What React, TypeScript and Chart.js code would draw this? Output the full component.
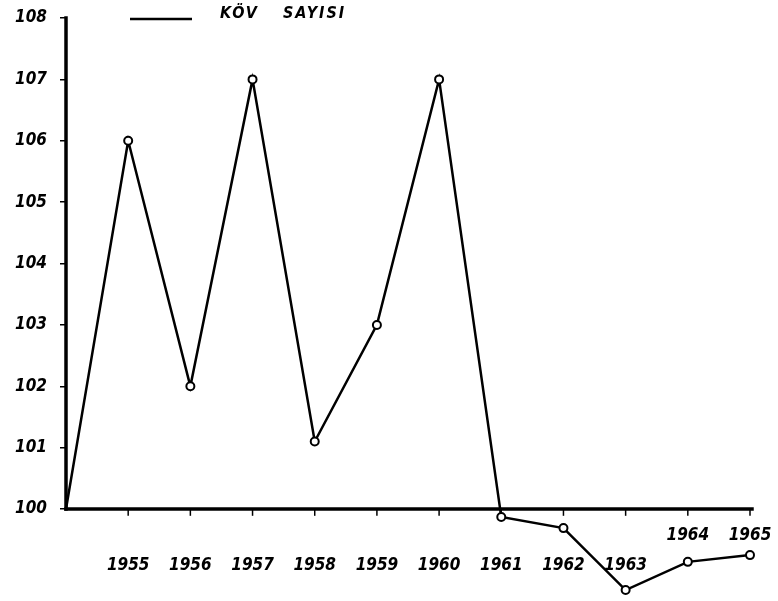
import React, { useEffect, useRef } from "react";
import { Chart, registerables } from "chart.js";

Chart.register(...registerables);

const years = [1954, 1955, 1956, 1957, 1958, 1959, 1960, 1961, 1962, 1963, 1964, 1965];
const values = [100, 106, 102, 107, 101.1, 103, 107, 99.87, 99.69, 98.68, 99.14, 99.25];
const yTickValues = [100, 101, 102, 103, 104, 105, 106, 107, 108];
const xLabelYears = [1955, 1956, 1957, 1958, 1959, 1960, 1961, 1962, 1963, 1964, 1965];
const raisedLabelYears = [1964, 1965];
const legendWords = ["KÖV", "SAYISI"];

const FONT_FAMILY = "'DejaVu Sans Condensed', 'DejaVu Sans', sans-serif";

const axesPlugin = {
  id: "handAxes",
  beforeDatasetsDraw(chart: any) {
    const { ctx } = chart;
    const xs = chart.scales.x;
    const ys = chart.scales.y;
    const x0 = xs.getPixelForValue(years[0]);
    const x1 = xs.getPixelForValue(years[years.length - 1]);
    const yBase = ys.getPixelForValue(yTickValues[0]);
    const yTop = ys.getPixelForValue(yTickValues[yTickValues.length - 1]);
    ctx.save();
    ctx.strokeStyle = "#000";
    ctx.lineCap = "square";
    ctx.lineWidth = 3.5;
    ctx.beginPath();
    ctx.moveTo(x0, yBase);
    ctx.lineTo(x0, yTop);
    ctx.stroke();
    ctx.beginPath();
    ctx.moveTo(x0, yBase);
    ctx.lineTo(x1 + 2, yBase);
    ctx.stroke();
    ctx.lineWidth = 1.5;
    xLabelYears.forEach((yr) => {
      const px = xs.getPixelForValue(yr);
      ctx.beginPath();
      ctx.moveTo(px, yBase);
      ctx.lineTo(px, yBase + 6);
      ctx.stroke();
    });
    ctx.fillStyle = "#000";
    ctx.font = `italic bold 17px ${FONT_FAMILY}`;
    ctx.textAlign = "center";
    ctx.textBaseline = "middle";
    xLabelYears.forEach((yr) => {
      const px = xs.getPixelForValue(yr);
      const off = raisedLabelYears.includes(yr) ? 27 : 57;
      ctx.fillText(String(yr), px, yBase + off);
    });
    ctx.restore();
  },
  afterDraw(chart: any) {
    const { ctx } = chart;
    ctx.save();
    ctx.strokeStyle = "#000";
    ctx.lineWidth = 2.5;
    ctx.beginPath();
    ctx.moveTo(130, 19);
    ctx.lineTo(192, 19);
    ctx.stroke();
    ctx.fillStyle = "#000";
    ctx.font = `italic bold 16px ${FONT_FAMILY}`;
    ctx.textAlign = "left";
    ctx.textBaseline = "middle";
    (ctx as any).letterSpacing = "2px";
    ctx.fillText(legendWords[0], 220, 14);
    ctx.fillText(legendWords[1], 283, 14);
    ctx.restore();
  },
};

export default function App() {
  const ref = useRef<HTMLCanvasElement | null>(null);
  useEffect(() => {
    document.body.style.margin = "0";
    const canvas = ref.current;
    if (!canvas) return;
    const chart = new Chart(canvas, {
      type: "line",
      data: {
        datasets: [
          {
            label: legendWords.join(" "),
            data: years.map((y, i) => ({ x: y, y: values[i] })),
            borderColor: "#000",
            borderWidth: 2.5,
            backgroundColor: "#fff",
            pointBackgroundColor: "#fff",
            pointBorderColor: "#000",
            pointBorderWidth: 2,
            pointRadius: years.map((_, i) => (i === 0 ? 0 : 4)),
            tension: 0,
            clip: false as any,
          },
        ],
      },
      options: {
        responsive: false,
        animation: false,
        layout: { padding: { top: 18, right: 28, bottom: 5, left: 0 } },
        plugins: { legend: { display: false }, tooltip: { enabled: false }, title: { display: false } },
        scales: {
          x: {
            type: "linear",
            min: years[0],
            max: years[years.length - 1],
            display: false,
          },
          y: {
            type: "linear",
            min: 98.6,
            max: 108,
            afterBuildTicks: (scale: any) => {
              scale.ticks = yTickValues.map((v) => ({ value: v }));
            },
            afterFit: (scale: any) => {
              scale.width = 66;
              scale.paddingTop = 0;
              scale.paddingBottom = 0;
            },
            border: { display: false },
            grid: {
              drawOnChartArea: false,
              drawTicks: true,
              tickLength: 6,
              color: "#000",
              lineWidth: 1.5,
            },
            ticks: {
              padding: 13,
              color: "#000",
              font: { family: FONT_FAMILY, size: 17, weight: "bold", style: "italic" },
              callback: (v: any) => String(v),
            },
          },
        },
      },
      plugins: [axesPlugin],
    });
    return () => chart.destroy();
  }, []);
  return <canvas ref={ref} width={778} height={601} style={{ display: "block" }} />;
}
